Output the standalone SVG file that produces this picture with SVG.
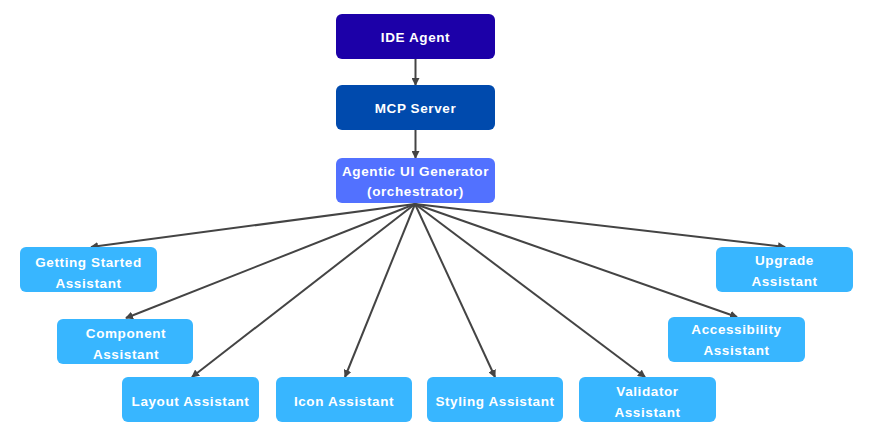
<svg xmlns="http://www.w3.org/2000/svg" width="872" height="436" viewBox="0 0 872 436">
<style>
.n{stroke:none}
.t{font-family:"Liberation Sans",Arial,sans-serif;font-weight:bold;font-size:13.5px;fill:#fff;text-anchor:middle;letter-spacing:0.6px}
.c{stroke:#444;stroke-width:2;fill:none;marker-end:url(#a)}
.a{fill:#38B6FF}
</style>
<defs><marker id="a" markerWidth="8" markerHeight="8" refX="7" refY="4" orient="auto" markerUnits="userSpaceOnUse"><path d="M0,0 L8,4 L0,8 Z" fill="#444"/></marker></defs>
<rect width="872" height="436" fill="#fff"/>
<g id="connectors">
<line class="c" x1="415.5" y1="59" x2="415.5" y2="85"/>
<line class="c" x1="415.5" y1="130" x2="415.5" y2="158"/>
<line class="c" x1="415" y1="204" x2="91" y2="247"/>
<line class="c" x1="415" y1="204" x2="126" y2="318"/>
<line class="c" x1="415" y1="204" x2="192" y2="377"/>
<line class="c" x1="415" y1="204" x2="345" y2="377"/>
<line class="c" x1="415" y1="204" x2="495" y2="377"/>
<line class="c" x1="415" y1="204" x2="645" y2="377"/>
<line class="c" x1="415" y1="204" x2="737" y2="317"/>
<line class="c" x1="415" y1="204" x2="785" y2="247"/>
</g>
<g id="ide"><rect x="336" y="14" width="159" height="45" rx="6" fill="#1C00A8"/><text class="t" x="415.5" y="42">IDE Agent</text></g>
<g id="mcp"><rect x="336" y="85" width="159" height="45" rx="6" fill="#004AAD"/><text class="t" x="415.5" y="113">MCP Server</text></g>
<g id="orch"><rect x="336" y="158" width="159" height="45" rx="6" fill="#5271FF"/><text class="t" x="415.5" y="176">Agentic UI Generator</text><text class="t" x="415.5" y="196">(orchestrator)</text></g>
<g id="getting"><rect class="a" x="20" y="247" width="137" height="45" rx="6"/><text class="t" x="88.5" y="267">Getting Started</text><text class="t" x="88.5" y="288">Assistant</text></g>
<g id="component"><rect class="a" x="57" y="319" width="136" height="45" rx="6"/><text class="t" x="126" y="338">Component</text><text class="t" x="126" y="359">Assistant</text></g>
<g id="layout"><rect class="a" x="122" y="377" width="137" height="45" rx="6"/><text class="t" x="190.5" y="406">Layout Assistant</text></g>
<g id="icon"><rect class="a" x="276" y="377" width="136" height="45" rx="6"/><text class="t" x="344" y="406">Icon Assistant</text></g>
<g id="styling"><rect class="a" x="427" y="377" width="136" height="45" rx="6"/><text class="t" x="495" y="406">Styling Assistant</text></g>
<g id="validator"><rect class="a" x="579" y="377" width="137" height="45" rx="6"/><text class="t" x="647.5" y="396">Validator</text><text class="t" x="647.5" y="417">Assistant</text></g>
<g id="accessibility"><rect class="a" x="668" y="317" width="137" height="45" rx="6"/><text class="t" x="736.5" y="334">Accessibility</text><text class="t" x="736.5" y="355">Assistant</text></g>
<g id="upgrade"><rect class="a" x="716" y="247" width="137" height="45" rx="6"/><text class="t" x="784.5" y="265">Upgrade</text><text class="t" x="784.5" y="286">Assistant</text></g>
</svg>
